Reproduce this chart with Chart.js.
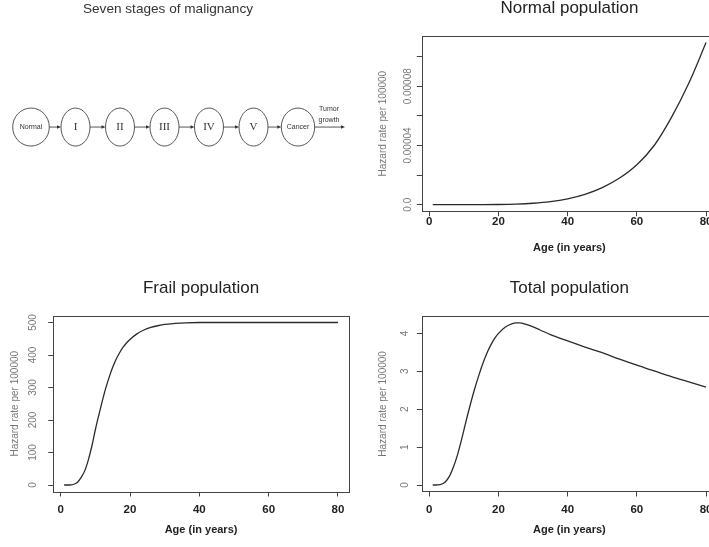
<!DOCTYPE html>
<html>
<head>
<meta charset="utf-8">
<script src="https://cdn.jsdelivr.net/npm/chart.js@4.4.0/dist/chart.umd.min.js"></script>
<style>
  html, body { margin: 0; padding: 0; background: #fff; }
  body { width: 709px; height: 547px; overflow: hidden; position: relative; }
  canvas { position: absolute; }
</style>
</head>
<body>
<canvas id="stages" width="360" height="238" style="left:0;top:0"></canvas>
<canvas id="normal" width="360" height="260" style="left:360px;top:0"></canvas>
<canvas id="frail" width="360" height="277" style="left:0;top:270px"></canvas>
<canvas id="total" width="360" height="277" style="left:360px;top:270px"></canvas>
<script>
const FONT = "'Liberation Sans', Arial, Helvetica, sans-serif";

// ---- data ----
const stageLabels = ['Normal', 'I', 'II', 'III', 'IV', 'V', 'Cancer'];
const stageIndex = [0, 1, 2, 3, 4, 5, 6];
const outcomeLabel = ['Tumor', 'growth'];

const ageTicks = [0, 20, 40, 60, 80];

const normalAge  = [1, 5, 10, 15, 20, 25, 30, 35, 40, 45, 50, 55, 60, 65, 70, 75, 80];
const normalRate = [0, 0, 0, 0.00000003, 0.00000013, 0.0000004, 0.000001, 0.0000021, 0.000004,
                    0.000007, 0.0000115, 0.000018, 0.000027, 0.00004, 0.000059, 0.000082, 0.0001095];
const normalYTicks  = [0, 0.00002, 0.00004, 0.00006, 0.00008, 0.0001];
const normalYLabels = ['0.0', '', '0.00004', '', '0.00008', ''];

const frailAge  = [1, 2, 3, 4, 5, 6, 7, 8, 9, 10, 11, 12, 13, 14, 15, 16, 17, 18, 19, 20,
                   22, 24, 26, 28, 30, 33, 36, 40, 50, 60, 70, 80];
const frailRate = [0, 0, 0.5, 3, 10, 25, 45, 78, 120, 170, 215, 258, 298, 332, 362, 387, 407, 424, 437, 448,
                   465, 477, 485, 490, 494, 497, 499, 500, 500, 500, 500, 500];
const frailYTicks  = [0, 100, 200, 300, 400, 500];
const frailYLabels = ['0', '100', '200', '300', '400', '500'];

const totalAge  = [1, 2, 3, 4, 5, 6, 7, 8, 9, 10, 11, 12, 13, 14, 15, 16, 17, 18, 19, 20,
                   22, 24, 25, 26, 28, 30, 32, 35, 40, 45, 50, 55, 60, 65, 70, 75, 80];
const totalRate = [0, 0, 0.01, 0.04, 0.12, 0.26, 0.48, 0.75, 1.08, 1.45, 1.82, 2.17, 2.5, 2.8, 3.08, 3.33, 3.55, 3.73, 3.88, 4.0,
                   4.17, 4.26, 4.28, 4.28, 4.24, 4.17, 4.09, 3.97, 3.8, 3.64, 3.49, 3.32, 3.16, 3.01, 2.86, 2.72, 2.58];
const totalYTicks  = [0, 1, 2, 3, 4];
const totalYLabels = ['0', '1', '2', '3', '4'];

// node half widths of the stage ellipses (px)
const nodeHalfWidth = [18.3, 14.5, 14.5, 14.5, 14.5, 14.5, 16.7];

// R-like frame round the plot region
const boxPlugin = {
  id: 'box',
  afterDraw(chart) {
    const a = chart.chartArea, ctx = chart.ctx;
    ctx.save();
    ctx.strokeStyle = '#444';
    ctx.lineWidth = 1;
    ctx.strokeRect(Math.round(a.left) + 0.5, Math.round(a.top) + 0.5,
                   Math.round(a.right - a.left), Math.round(a.bottom - a.top));
    ctx.restore();
  }
};

function arrow(ctx, x0, x1, y) {
  ctx.beginPath();
  ctx.moveTo(x0, y);
  ctx.lineTo(x1 - 3, y);
  ctx.stroke();
  ctx.beginPath();
  ctx.moveTo(x1, y);
  ctx.lineTo(x1 - 4, y - 1.8);
  ctx.lineTo(x1 - 4, y + 1.8);
  ctx.closePath();
  ctx.fill();
}

const stagePlugin = {
  id: 'stageNodes',
  afterDatasetsDraw(chart) {
    const ctx = chart.ctx;
    const pts = chart.getDatasetMeta(0).data;
    ctx.save();
    ctx.strokeStyle = '#444';
    ctx.fillStyle = '#333';
    ctx.lineWidth = 0.9;
    ctx.textAlign = 'center';
    ctx.textBaseline = 'middle';
    pts.forEach((p, i) => {
      const rx = nodeHalfWidth[i];
      ctx.beginPath();
      ctx.ellipse(p.x, p.y, rx, 19, 0, 0, Math.PI * 2);
      ctx.stroke();
      const last = i === pts.length - 1;
      const x1 = last ? p.x + 47 : pts[i + 1].x - nodeHalfWidth[i + 1];
      arrow(ctx, p.x + rx, x1, p.y);
      const roman = i > 0 && !last;
      ctx.font = roman ? "11px 'Liberation Serif', 'Times New Roman', serif" : '7px ' + FONT;
      ctx.fillText(stageLabels[i], p.x, p.y + (roman ? 0.5 : 0));
      if (last) {
        ctx.font = '7px ' + FONT;
        ctx.fillText(outcomeLabel[0], p.x + 31, p.y - 18);
        ctx.fillText(outcomeLabel[1], p.x + 31, p.y - 7);
      }
    });
    ctx.restore();
  }
};

new Chart(document.getElementById('stages'), {
  type: 'scatter',
  data: { datasets: [{ data: stageIndex.map(i => ({ x: i, y: 0 })), pointRadius: 0, showLine: false }] },
  options: {
    responsive: false, animation: false, devicePixelRatio: 1,
    layout: { padding: { left: 0, right: 24, top: 0, bottom: 0 } },
    plugins: {
      legend: { display: false }, tooltip: { enabled: false },
      title: { display: true, text: 'Seven stages of malignancy', fullSize: false, color: '#333',
               font: { family: FONT, size: 13.6, weight: 'normal', lineHeight: 1 }, padding: { top: 2.5, bottom: 0 } }
    },
    scales: {
      x: { type: 'linear', display: false, min: -0.6967, max: 6.854 },
      y: { type: 'linear', display: false, min: -1, max: 1 }
    }
  },
  plugins: [stagePlugin]
});

const measure = document.createElement('canvas').getContext('2d');
measure.font = '10px ' + FONT;

function hazardPanel(id, o) {
  const widest = Math.max(...o.yLabels.map(t => measure.measureText(t).width));
  return new Chart(document.getElementById(id), {
    type: 'line',
    data: {
      datasets: [{
        data: o.ages.map((a, i) => ({ x: a, y: o.rates[i] })),
        borderColor: '#2b2b2b', borderWidth: 1.3, pointRadius: 0, fill: false,
        cubicInterpolationMode: 'monotone'
      }]
    },
    options: {
      responsive: false, animation: false, devicePixelRatio: 1,
      layout: { padding: { left: 0, right: o.padRight, top: o.padTop, bottom: 0 } },
      plugins: {
        legend: { display: false }, tooltip: { enabled: false },
        title: { display: true, text: o.title, fullSize: false, color: '#222',
                 font: { family: FONT, size: 17, weight: 'normal', lineHeight: 1 },
                 padding: { top: 0, bottom: o.titleGap } }
      },
      scales: {
        x: {
          type: 'linear', min: -2.16, max: 83.16,
          afterBuildTicks: s => { s.ticks = ageTicks.map(v => ({ value: v })); },
          afterFit: s => { s.height = o.xHeight; s.paddingLeft = 0; s.paddingRight = 0; },
          grid: { drawOnChartArea: false, tickLength: 5, color: '#444', lineWidth: 1 },
          border: { display: false },
          ticks: { color: '#222', font: { family: FONT, size: 11.5, weight: 'bold', lineHeight: 1 },
                   padding: o.xTickPad, maxRotation: 0, autoSkip: false, callback: v => String(v) },
          title: { display: true, text: 'Age (in years)', color: '#222',
                   font: { family: FONT, size: 11, weight: 'bold', lineHeight: 1 },
                   padding: { top: 0, bottom: o.xTitlePad } }
        },
        y: {
          type: 'linear', min: o.yMin, max: o.yMax,
          afterBuildTicks: s => { s.ticks = o.yTicks.map(v => ({ value: v })); },
          afterFit: s => { s.width = o.yWidth; s.paddingTop = 0; s.paddingBottom = 0; },
          grid: { drawOnChartArea: false, tickLength: 5, color: '#444', lineWidth: 1 },
          border: { display: false },
          ticks: { color: '#777', font: { family: FONT, size: 10, lineHeight: 1 },
                   minRotation: 90, maxRotation: 90, crossAlign: 'center', autoSkip: false,
                   padding: o.yLabelOffset - 5 - widest / 2,
                   callback: (v, i) => o.yLabels[i] },
          title: { display: true, text: 'Hazard rate per 100000', color: '#777',
                   font: { family: FONT, size: 10, lineHeight: 1 },
                   padding: { top: o.yTitlePad, bottom: 0 } }
        }
      }
    },
    plugins: [boxPlugin]
  });
}

hazardPanel('normal', {
  title: 'Normal population', ages: normalAge, rates: normalRate,
  yTicks: normalYTicks, yLabels: normalYLabels, yMin: -0.00000438, yMax: 0.0001139,
  padTop: 0, titleGap: 19.1, padRight: 3, xHeight: 48.8, xTickPad: 0, xTitlePad: 6.5,
  yWidth: 61.8, yLabelOffset: 13.8, yTitlePad: 18
});

hazardPanel('frail', {
  title: 'Frail population', ages: frailAge, rates: frailRate,
  yTicks: frailYTicks, yLabels: frailYLabels, yMin: -20, yMax: 520,
  padTop: 9.5, titleGap: 19.5, padRight: 11.1, xHeight: 55.5, xTickPad: 7.75, xTitlePad: 11.5,
  yWidth: 53.2, yLabelOffset: 20.2, yTitlePad: 10
});

hazardPanel('total', {
  title: 'Total population', ages: totalAge, rates: totalRate,
  yTicks: totalYTicks, yLabels: totalYLabels, yMin: -0.171, yMax: 4.451,
  padTop: 9.5, titleGap: 19.8, padRight: 3, xHeight: 55.5, xTickPad: 7.75, xTitlePad: 11.5,
  yWidth: 61.8, yLabelOffset: 16.8, yTitlePad: 18
});
</script>
</body>
</html>
